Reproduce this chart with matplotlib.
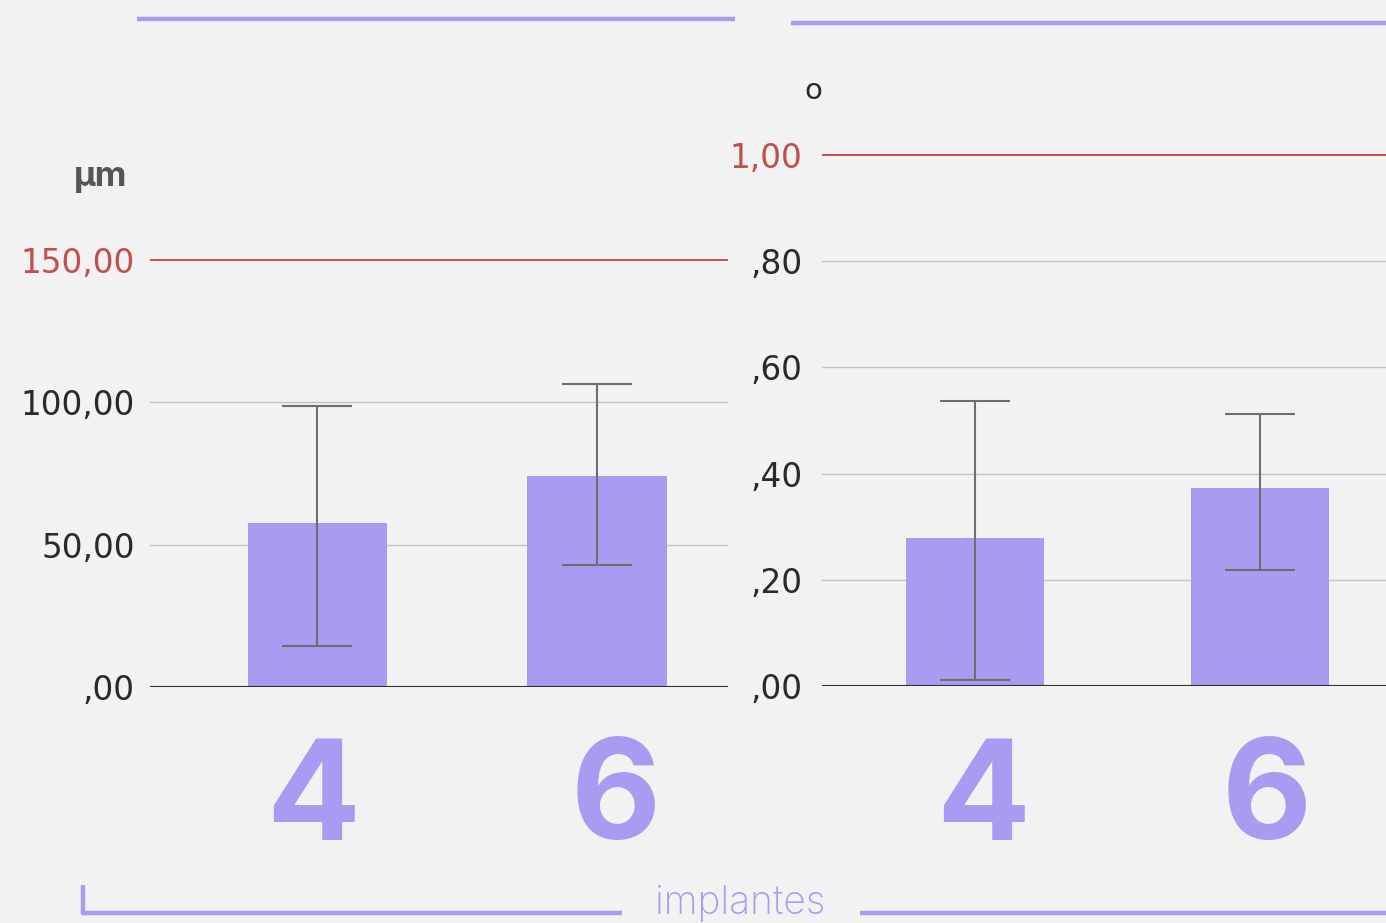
import numpy as np
import matplotlib
matplotlib.use('Agg')
import matplotlib.pyplot as plt
from matplotlib.lines import Line2D
from matplotlib import transforms

# dados
grupos = ['4', '6']
media_um = [57.6, 74.1]          # µm
erro_um_baixo = [43.2, 31.2]
erro_um_cima = [41.1, 32.3]
ticks_um = [0, 50, 100, 150]
labels_um = [',00', '50,00', '100,00', '150,00']
limite_um = 150

media_graus = [0.279, 0.373]     # o
erro_graus_baixo = [0.268, 0.155]
erro_graus_cima = [0.258, 0.139]
ticks_graus = [0, 0.2, 0.4, 0.6, 0.8, 1.0]
labels_graus = [',00', ',20', ',40', ',60', ',80', '1,00']
limite_graus = 1.0

roxo = '#a89bf1'
vermelho = '#c0504d'
cinza_erro = '#6e6e6e'
fundo = '#f2f2f2'

plt.rcParams['font.family'] = ['Inter', 'DejaVu Sans']

W, H = 1386, 923
fig = plt.figure(figsize=(W / 100, H / 100), dpi=100, facecolor=fundo)


def eixo(x0, x1, y0_px, px_por_unid, ytop):
    # y0_px: pixel (de cima) onde fica o zero
    altura = ytop * px_por_unid
    ax = fig.add_axes([x0 / W, (H - y0_px) / H, (x1 - x0) / W, altura / H])
    ax.set_facecolor('none')
    ax.set_ylim(0, ytop)
    for s in ax.spines.values():
        s.set_visible(False)
    ax.tick_params(length=0)
    return ax


def desenha(ax, medias, baixo, cima, ticks, labels, limite, xlim, pad, larg):
    x = np.arange(len(grupos))
    ax.set_xlim(*xlim)
    for t in ticks:
        if t == 0:
            ax.axhline(t, color='#2e2e2e', lw=1.5, zorder=4)
        elif t == limite:
            ax.axhline(t, color=vermelho, lw=1.4, zorder=1)
        else:
            ax.axhline(t, color='#c4c4c4', lw=1.0, zorder=1)
    ax.bar(x, medias, width=larg, color=roxo, zorder=2)
    ax.errorbar(x, medias, yerr=[baixo, cima], fmt='none', ecolor=cinza_erro,
                elinewidth=1.5, capsize=25, capthick=1.5, zorder=3)
    ax.set_yticks(ticks)
    ax.set_yticklabels(labels, fontsize=23.5, color='#2a2a2a',
                       family=['DejaVu Sans'])
    ax.tick_params(axis='y', pad=pad)
    for t, lab in zip(ticks, ax.get_yticklabels()):
        if t == limite:
            lab.set_color(vermelho)
    ax.set_xticks([])


def numeros(ax, desloc):
    tr = transforms.blended_transform_factory(ax.transData, fig.transFigure)
    for i, dx in enumerate(desloc):
        ax.text(i + dx, 1 - 803 / H, grupos[i], transform=tr,
                ha='center', va='center', fontsize=100, fontweight='bold',
                color=roxo)


# painel esquerdo (µm)
ax1 = eixo(150, 728, 687, 2.847, 160)
desenha(ax1, media_um, erro_um_baixo, erro_um_cima, ticks_um, labels_um,
        limite_um, (-0.599, 1.469), 11, 0.5)
numeros(ax1, [-0.015, 0.068])
fig.text(101 / W, 1 - 177 / H, 'µm', ha='center', va='center', fontsize=25,
         fontweight='bold', color='#555555')

# painel direito (graus)
ax2 = eixo(822, 1386, 686, 531, 1.06)
desenha(ax2, media_graus, erro_graus_baixo, erro_graus_cima, ticks_graus,
        labels_graus, limite_graus, (-0.537, 1.442), 14, 0.484)
numeros(ax2, [0.03, 0.025])
fig.text(813 / W, 1 - 91 / H, 'o', ha='center', va='center', fontsize=21,
         color='#2a2a2a', family=['DejaVu Sans'])

# linhas decorativas
def linha(xs, ys, lw):
    fig.add_artist(Line2D([v / W for v in xs], [1 - v / H for v in ys],
                          color=roxo, lw=lw, solid_capstyle='butt'))

linha([137, 735], [19, 19], 3.2)
linha([791, 1386], [23, 23], 3.2)
linha([83, 83, 622], [885, 913, 913], 3.2)
linha([860, 1386], [913, 913], 3.2)
fig.text(740 / W, 1 - 903 / H, 'implantes', ha='center', va='center',
         fontsize=28, fontweight='light', color=roxo)

fig.savefig('out.png', dpi=100, facecolor=fundo)
